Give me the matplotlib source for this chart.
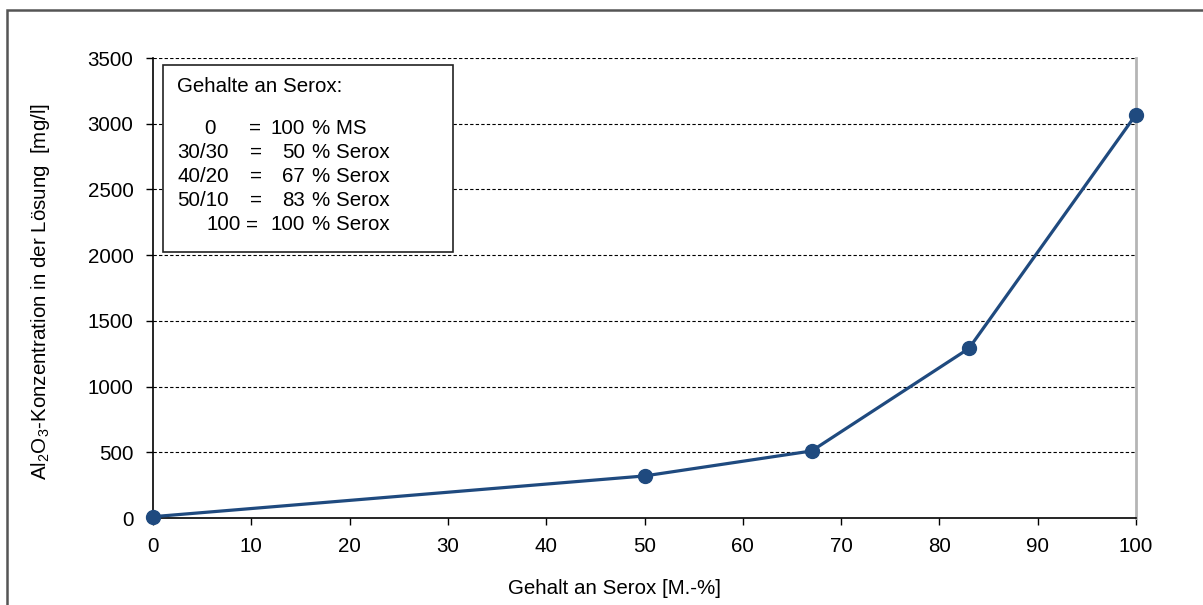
import matplotlib
matplotlib.use("Agg")
import matplotlib.pyplot as plt
from matplotlib.patches import Rectangle

plt.rcParams['font.family'] = ['Liberation Sans', 'DejaVu Sans']
plt.rcParams['mathtext.fontset'] = 'custom'
plt.rcParams['mathtext.rm'] = 'Liberation Sans'
plt.rcParams['mathtext.it'] = 'Liberation Sans'

# Data
serox = [0, 50, 67, 83, 100]
al2o3 = [10, 320, 510, 1290, 3070]
x_ticks = [0, 10, 20, 30, 40, 50, 60, 70, 80, 90, 100]
y_ticks = [0, 500, 1000, 1500, 2000, 2500, 3000, 3500]
legend_title = "Gehalte an Serox:"
legend_left = ["0", "30/30", "40/20", "50/10", "100"]
legend_vals = ["100", "50", "67", "83", "100"]
legend_units = ["% MS", "% Serox", "% Serox", "% Serox", "% Serox"]

W, H = 1203, 605
fig = plt.figure(figsize=(W / 100, H / 100), dpi=100)

def fx(px):
    return px / W

def fy(py):
    return 1 - py / H

ax = fig.add_axes([fx(153), fy(518), fx(1136) - fx(153), fy(58) - fy(518)])

color = '#1f4a7f'
ax.plot(serox, al2o3, color=color, lw=2.3, marker='o', ms=10, zorder=5, clip_on=False)

FS = 14.8
ax.set_xlim(0, 100)
ax.set_ylim(0, 3500)
ax.set_xticks(x_ticks)
ax.set_yticks(y_ticks)
ax.tick_params(axis='both', labelsize=FS, direction='out', length=5, width=1, color='black')
ax.tick_params(axis='x', pad=9)
ax.tick_params(axis='y', pad=9)

for yv in y_ticks[1:]:
    ax.axhline(yv, color='black', lw=0.8, ls=(0, (3, 2)), zorder=1)

ax.spines['top'].set_visible(False)
ax.spines['right'].set_color('#b5b5b5')
ax.spines['right'].set_linewidth(2)
ax.spines['left'].set_linewidth(1.2)
ax.spines['bottom'].set_linewidth(1.2)

# labels
fig.text(fx(41), fy(292), r"Al$_2$O$_3$-Konzentration in der Lösung  [mg/l]",
         rotation=90, ha='center', va='center', fontsize=FS)
fig.text(fx(614), fy(589), "Gehalt an Serox [M.-%]", ha='center', va='center', fontsize=FS)

# legend box
box = Rectangle((fx(163), fy(252)), fx(453) - fx(163), fy(65) - fy(252),
                transform=fig.transFigure, facecolor='white', edgecolor='#222222',
                lw=1.2, zorder=10)
fig.patches.append(box)

fig.text(fx(177), fy(87), legend_title, ha='left', va='center', fontsize=FS, zorder=11)
rows_y = [128, 152, 176, 200, 225]
left_x = [204, 177, 177, 177, 206]
eq_x = [249, 250, 250, 250, 246]
for i, yy in enumerate(rows_y):
    fig.text(fx(left_x[i]), fy(yy), legend_left[i], ha='left', va='center', fontsize=FS, zorder=11)
    fig.text(fx(eq_x[i]), fy(yy), "=", ha='left', va='center', fontsize=FS, zorder=11)
    fig.text(fx(305), fy(yy), legend_vals[i], ha='right', va='center', fontsize=FS, zorder=11)
    fig.text(fx(312), fy(yy), legend_units[i], ha='left', va='center', fontsize=FS, zorder=11)

# outer border
border = Rectangle((fx(7), fy(615)), fx(1215) - fx(7), fy(10) - fy(615),
                   transform=fig.transFigure, facecolor='none', edgecolor='#555555',
                   lw=1.8, zorder=0)
fig.patches.append(border)

fig.savefig("out.png", dpi=100)
